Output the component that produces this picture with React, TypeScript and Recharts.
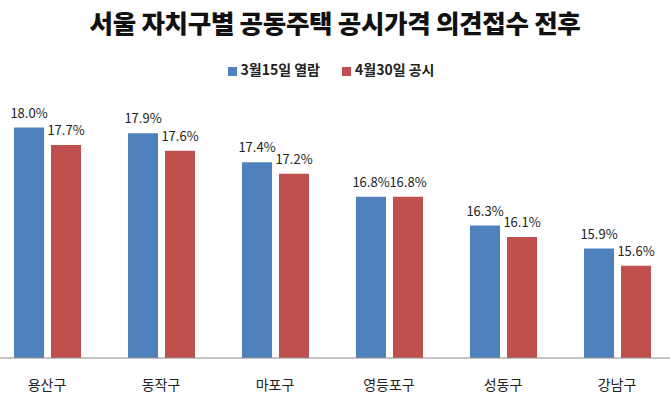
import { BarChart, Bar, XAxis, YAxis, Legend, LabelList } from "recharts";

const districts = ["용산구", "동작구", "마포구", "영등포구", "성동구", "강남구"];
const march15 = [18.0, 17.9, 17.4, 16.8, 16.3, 15.9];
const april30 = [17.7, 17.6, 17.2, 16.8, 16.1, 15.6];

const data = districts.map((name, i) => ({
  name,
  march: march15[i],
  april: april30[i],
}));

const font = '"Noto Sans CJK KR", "Noto Sans", sans-serif';
const pct = (v: any) => `${Number(v).toFixed(1)}%`;

export default function App() {
  return (
    <div
      style={{
        position: "absolute",
        left: 0,
        top: 0,
        width: 670,
        height: 406,
        overflow: "hidden",
        background: "#fff",
        fontFamily: font,
      }}
    >
      <div
        style={{
          position: "absolute",
          top: 3,
          left: 0,
          width: 670,
          textAlign: "center",
          fontSize: 25.5,
          fontWeight: 900,
          color: "#111",
          letterSpacing: -0.3,
        }}
      >
        서울 자치구별 공동주택 공시가격 의견접수 전후
      </div>
      <div style={{ position: "absolute", left: -10, top: 0 }}>
        <BarChart
          width={684}
          height={406}
          data={data}
          margin={{ top: 50, right: 0, bottom: 0, left: 0 }}
          barGap={7}
        >
          <Legend
            verticalAlign="top"
            align="center"
            iconType="square"
            iconSize={9}
            wrapperStyle={{ top: 59, left: 10, fontSize: 14, fontWeight: 600 }}
            formatter={(v: string) => (
              <span style={{ color: "#222", marginRight: 12 }}>{v}</span>
            )}
          />
          <XAxis
            dataKey="name"
            height={48}
            tickLine={false}
            axisLine={{ stroke: "#8c8c8c" }}
            tickMargin={16}
            tick={{ fill: "#222", fontSize: 14 }}
          />
          <YAxis hide domain={[14, 19]} />
          <Bar dataKey="march" name="3월15일 열람" fill="#4F81BD" barSize={30} isAnimationActive={false}>
            <LabelList dataKey="march" position="top" offset={10} formatter={pct} style={{ fill: "#222", fontSize: 13 }} />
          </Bar>
          <Bar dataKey="april" name="4월30일 공시" fill="#C0504D" barSize={30} isAnimationActive={false}>
            <LabelList dataKey="april" position="top" offset={10} formatter={pct} style={{ fill: "#222", fontSize: 13 }} />
          </Bar>
        </BarChart>
      </div>
    </div>
  );
}
